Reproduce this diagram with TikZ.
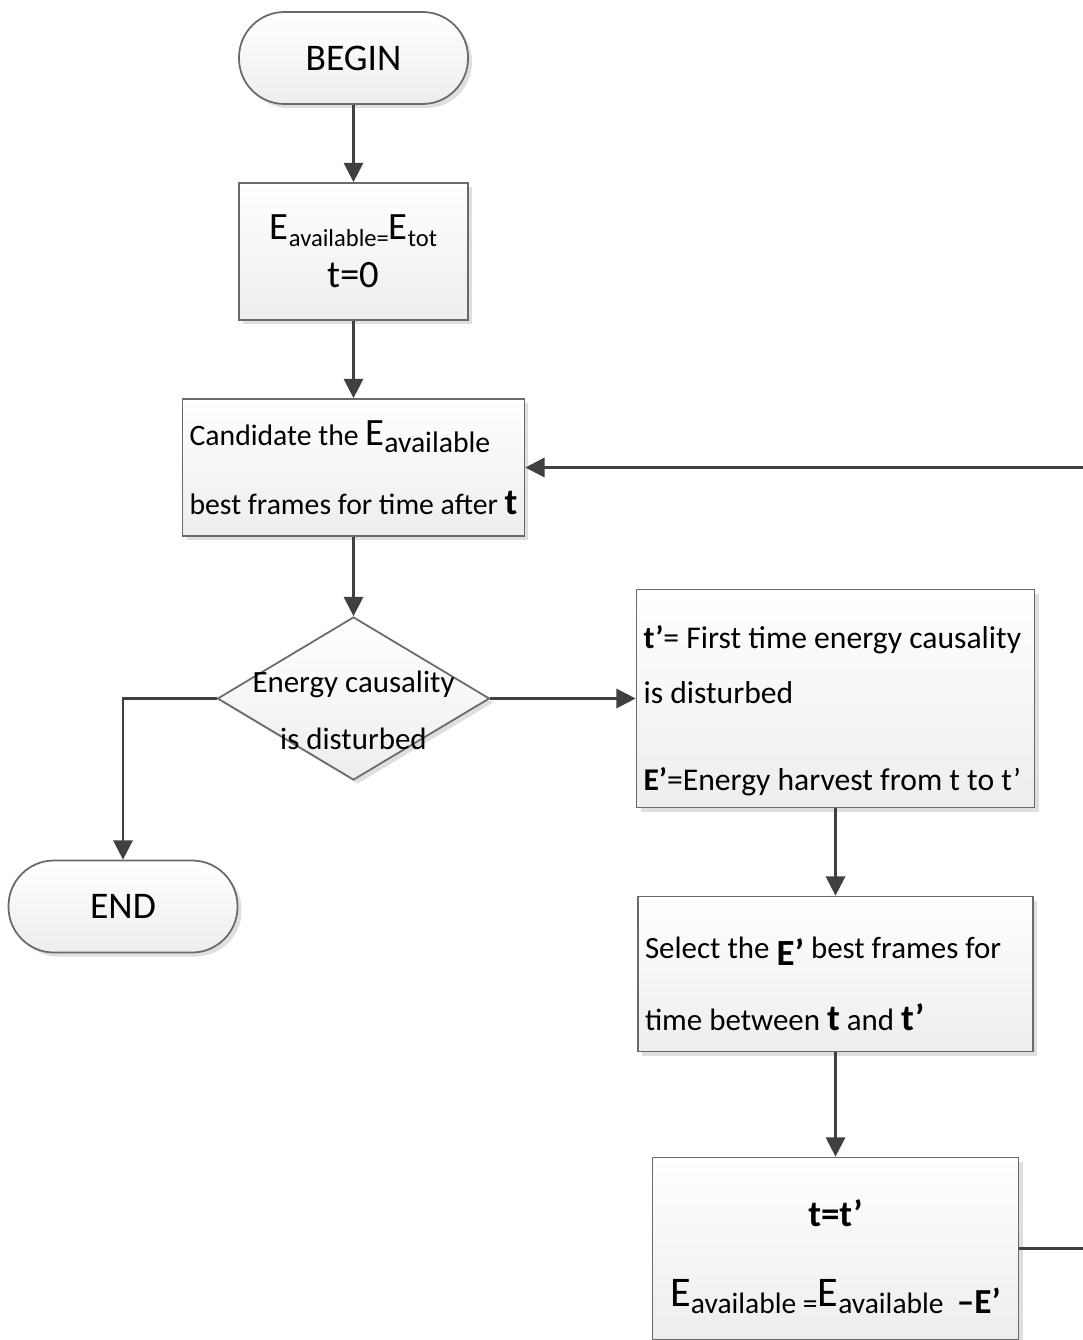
\documentclass[tikz,border=0pt]{standalone}
\usepackage{fontspec}
\setmainfont{Carlito}
\usetikzlibrary{positioning,shapes.geometric,shadows,arrows.meta}
\definecolor{linegray}{HTML}{404040}
\definecolor{boxgray}{HTML}{6A6A6A}
\newcommand{\bigE}[1]{{\fontsize{11}{11}\selectfont E}\raisebox{-2pt}{#1}}

\begin{document}
\begin{tikzpicture}[
    box/.style = {draw=boxgray, line width=0.5pt, top color=white, bottom color=gray!14,
        drop shadow={shadow xshift=0.04cm, shadow yshift=-0.04cm, opacity=0.25, fill=gray}},
    term/.style = {box, rectangle, rounded corners=0.455cm, minimum width=2.29cm, minimum height=0.92cm,
        font=\fontsize{10.7}{12}\selectfont},
    proc/.style = {box, rectangle, minimum height=1.37cm, inner xsep=0.07cm,
        font=\fontsize{8.6}{15.6}\selectfont},
    decide/.style = {box, diamond, minimum width=2.72cm, minimum height=1.63cm, inner sep=0pt,
        align=center, font=\fontsize{8.8}{16.2}\selectfont},
    arr/.style = {draw=linegray, line width=0.7pt, -{Triangle[width=5.5pt,length=5.5pt]}}]
    \useasboundingbox (0,0) rectangle (10.83,-13.40);
    \node[term] (begin) at (3.535,-0.58) {BEGIN};
    \node[proc, node distance=1.935cm, minimum width=2.29cm, align=center] (init) [below of=begin]
        {\bigE{\fontsize{7}{7}\selectfont available=}\bigE{\fontsize{7}{7}\selectfont tot}\\[-2pt]
         {\fontsize{11}{11}\selectfont t=0}};
    \node[proc, node distance=2.16cm, minimum width=3.41cm, align=left,
        font=\fontsize{8.45}{19.6}\selectfont] (cand) [below of=init]
        {Candidate the \bigE{available}\\
         best frames for time after {\bfseries\fontsize{10.5}{10.5}\selectfont t}};
    \node[decide, node distance=2.31cm] (diam) [below of=cand]
        {\rule{0pt}{12.8pt}\makebox[0pt]{Energy causality}\\ \makebox[0pt]{is disturbed}};
    \node[proc, node distance=4.82cm, minimum width=3.98cm, minimum height=2.18cm,
        text width=3.84cm, align=flush left, font=\fontsize{9}{15.6}\selectfont] (tprime) [right of=diam]
        {\rule{0pt}{13.5pt}\textbf{t’}= First time energy causality\\
         is disturbed\\[9pt]
         \textbf{E’}=Energy harvest from t to t’};
    \node[proc, node distance=2.755cm, minimum width=3.93cm, minimum height=1.55cm,
        text width=3.81cm, align=flush left, font=\fontsize{8.8}{20.5}\selectfont] (select) [below of=tprime]
        {\rule{0pt}{12pt}Select the \raisebox{-2pt}{\bfseries\fontsize{10.5}{10.5}\selectfont E’} best frames for\\
         time between {\bfseries\fontsize{10.5}{10.5}\selectfont t} and
         {\bfseries\fontsize{10.5}{10.5}\selectfont t’}};
    \node[proc, node distance=2.745cm, minimum width=3.66cm, minimum height=1.82cm, align=center,
        font=\fontsize{8.4}{22.8}\selectfont] (update) [below of=select]
        {\rule{0pt}{12.5pt}{\bfseries\fontsize{10.5}{10.5}\selectfont t=t’}\\
         {\fontsize{12}{12}\selectfont E}\raisebox{-2pt}{available =}{\fontsize{12}{12}\selectfont E}\raisebox{-2pt}{available\ \
         {\bfseries\fontsize{10}{10}\selectfont –E’}}};
    \node[term, node distance=2.08cm, xshift=-2.305cm] (end) [below of=diam] {END};
    \coordinate (loop) at ([xshift=5.66cm]cand.east);
    \draw[arr] (begin) -- (init);
    \draw[arr] (init) -- (cand);
    \draw[arr] (cand) -- (diam);
    \draw[arr] (diam) -- (tprime);
    \draw[arr] (diam.west) -| (end.north);
    \draw[arr] (tprime) -- (select);
    \draw[arr] (select) -- (update);
    \draw[arr] (update.east) -| (loop) |- (cand.east);
\end{tikzpicture}
\end{document}
